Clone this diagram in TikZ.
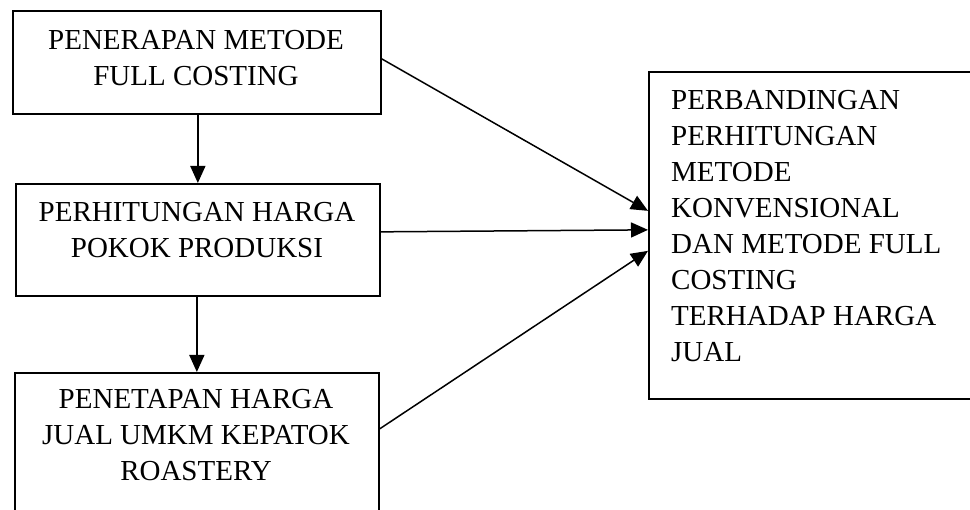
\documentclass[tikz,border=0pt]{standalone}
\usepackage{fontspec}
\setmainfont{Liberation Serif}
\usetikzlibrary{arrows.meta}
\tikzset{
  box/.style={draw, line width=1.7pt, inner sep=0pt, anchor=north west},
  lbl/.style={inner sep=0pt, font=\fontsize{29}{36}\selectfont},
  arr/.style={line width=1.5pt, -{Triangle[length=17pt,width=15pt]}}
}
\begin{document}
\begin{tikzpicture}[x=1pt,y=-1pt]
\useasboundingbox (0,0) rectangle (970,510);
\clip (0,0) rectangle (970,510);
\node[box, minimum width=368pt, minimum height=103pt] (b1) at (12,10) {};
\node[box, minimum width=364pt, minimum height=112pt] (b2) at (15,183) {};
\node[box, minimum width=364pt, minimum height=153pt] (b3) at (14,372) {};
\node[box, minimum width=337pt, minimum height=327pt] (b4) at (648,71) {};
\node[lbl, align=center, anchor=north] (t1) at (196,30) {PENERAPAN METODE\\FULL COSTING};
\node[lbl, align=center, anchor=north] (t2) at (197,202) {PERHITUNGAN HARGA\\POKOK PRODUKSI};
\node[lbl, align=center, anchor=north] (t3) at (196,389) {PENETAPAN HARGA\\JUAL UMKM KEPATOK\\ROASTERY};
\node[lbl, align=left, anchor=north west] (t4) at (671,90) {PERBANDINGAN\\PERHITUNGAN\\METODE\\KONVENSIONAL\\DAN METODE FULL\\COSTING\\TERHADAP HARGA\\JUAL};
\draw[arr] ([xshift=1pt]b1.south) -- ([xshift=1pt]b1.south |- b2.north);
\draw[arr] ([xshift=-1pt]b2.south) -- ([xshift=-1pt]b2.south |- b3.north);
\draw[arr] ([yshift=3.5pt]b1.east) -- ([yshift=24.5pt]b4.west);
\draw[arr] ([yshift=8pt]b2.east) -- ([yshift=5.5pt]b4.west);
\draw[arr] ([yshift=20.5pt]b3.east) -- ([yshift=-15.5pt]b4.west);
\end{tikzpicture}
\end{document}
